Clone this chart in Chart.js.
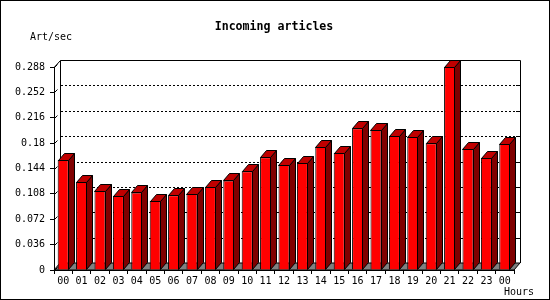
<!DOCTYPE html>
<html>
<head>
<meta charset="utf-8">
<script src="https://cdn.jsdelivr.net/npm/chart.js@4"></script>
<style>
  html, body { margin: 0; padding: 0; background: #fff; }
  canvas { display: block; }
</style>
</head>
<body>
<canvas id="articlesChart" width="550" height="300"></canvas>
<script>
const hours = ['00', '01', '02', '03', '04', '05', '06', '07', '08', '09', '10', '11',
               '12', '13', '14', '15', '16', '17', '18', '19', '20', '21', '22', '23', '00'];
const articlesPerSec = [0.156, 0.125, 0.112, 0.105, 0.110, 0.098, 0.106, 0.108, 0.118, 0.127, 0.140, 0.160,
                        0.149, 0.152, 0.175, 0.166, 0.201, 0.199, 0.190, 0.189, 0.180, 0.288, 0.172, 0.159, 0.179];
const yTicks = [0, 0.036, 0.072, 0.108, 0.144, 0.18, 0.216, 0.252, 0.288];
const yTickLabels = ['0', '0.036', '0.072', '0.108', '0.144', '0.18', '0.216', '0.252', '0.288'];

const DX = 6;
const DY = 7;
const monoFont = '"DejaVu Sans Mono", "Liberation Mono", monospace';

// back wall, dotted grid and floor, drawn behind the bars
const backdrop = {
    id: 'backdrop',
    beforeDatasetsDraw(chart) {
        const ctx = chart.ctx;
        const a = chart.chartArea;
        const y = chart.scales.y;
        ctx.save();
        ctx.lineWidth = 1;
        ctx.strokeStyle = '#000';

        // floor
        ctx.fillStyle = '#808080';
        ctx.beginPath();
        ctx.moveTo(a.left, a.bottom);
        ctx.lineTo(a.right, a.bottom);
        ctx.lineTo(a.right + DX, a.bottom - DY);
        ctx.lineTo(a.left + DX, a.bottom - DY);
        ctx.closePath();
        ctx.fill();
        ctx.stroke();

        // back panel outline
        ctx.beginPath();
        ctx.moveTo(a.left + DX + 0.5, a.bottom - DY);
        ctx.lineTo(a.left + DX + 0.5, a.top - DY + 0.5);
        ctx.lineTo(a.right + DX + 0.5, a.top - DY + 0.5);
        ctx.lineTo(a.right + DX + 0.5, a.bottom - DY);
        ctx.moveTo(a.left + 0.5, a.top);
        ctx.lineTo(a.left + DX + 0.5, a.top - DY + 0.5);
        ctx.stroke();

        // dotted grid on the back panel + small ticks
        yTicks.forEach(v => {
            const py = Math.round(y.getPixelForValue(v)) + 0.5;
            const gy = py - DY;
            if (v > 0 && v < yTicks[yTicks.length - 1]) {
                ctx.setLineDash([2, 2]);
                ctx.beginPath();
                ctx.moveTo(a.left + DX + 1, gy);
                ctx.lineTo(a.right + DX, gy);
                ctx.stroke();
                ctx.setLineDash([]);
                ctx.beginPath();
                ctx.moveTo(a.right + DX - 4, gy);
                ctx.lineTo(a.right + DX, gy);
                ctx.stroke();
            }
            ctx.beginPath();
            ctx.moveTo(a.left + 0.5, py);
            ctx.lineTo(a.left + 3.5, py - 3);
            ctx.stroke();
        });
        ctx.restore();
    }
};

// side and top faces of each bar
const bars3d = {
    id: 'bars3d',
    afterDatasetsDraw(chart) {
        const ctx = chart.ctx;
        const meta = chart.getDatasetMeta(0);
        ctx.save();
        ctx.lineWidth = 1;
        ctx.strokeStyle = '#000';
        meta.data.forEach(bar => {
            const p = bar.getProps(['x', 'y', 'base', 'width'], true);
            const l = Math.round(p.x - p.width / 2) + 0.5;
            const r = Math.round(p.x + p.width / 2) - 0.5;
            const t = Math.round(p.y) + 0.5;
            const b = Math.round(p.base) - 0.5;

            ctx.fillStyle = '#800000';
            ctx.beginPath();
            ctx.moveTo(r, t);
            ctx.lineTo(r + DX, t - DY);
            ctx.lineTo(r + DX, b - DY);
            ctx.lineTo(r, b);
            ctx.closePath();
            ctx.fill();
            ctx.stroke();

            ctx.fillStyle = '#c00000';
            ctx.beginPath();
            ctx.moveTo(l, t);
            ctx.lineTo(l + DX, t - DY);
            ctx.lineTo(r + DX, t - DY);
            ctx.lineTo(r, t);
            ctx.closePath();
            ctx.fill();
            ctx.stroke();
        });
        ctx.restore();
    }
};

// frame and texts
const labels = {
    id: 'labels',
    afterDraw(chart) {
        const ctx = chart.ctx;
        ctx.save();
        ctx.strokeStyle = '#000';
        ctx.lineWidth = 1;
        ctx.strokeRect(0.5, 0.5, 549, 299);
        ctx.fillStyle = '#000';
        ctx.textBaseline = 'middle';
        ctx.font = 'bold 11.6px ' + monoFont;
        ctx.textAlign = 'center';
        ctx.fillText('Incoming articles', 274, 27);
        ctx.font = '10px ' + monoFont;
        ctx.textAlign = 'left';
        ctx.fillText('Art/sec', 30, 37);
        ctx.fillText('Hours', 504, 292);
        ctx.restore();
    }
};

new Chart(document.getElementById('articlesChart'), {
    type: 'bar',
    data: {
        labels: hours,
        datasets: [{
            data: articlesPerSec,
            backgroundColor: '#ff0000',
            borderColor: '#000',
            borderWidth: 1,
            categoryPercentage: 1,
            barPercentage: 0.6
        }]
    },
    options: {
        responsive: false,
        animation: false,
        devicePixelRatio: 1,
        layout: { padding: { top: 67, right: 36, bottom: 0, left: 0 } },
        plugins: { legend: { display: false }, tooltip: { enabled: false } },
        scales: {
            x: {
                grid: { drawOnChartArea: false, drawTicks: true, tickLength: 4, color: '#000' },
                border: { color: '#000' },
                ticks: { color: '#000', font: { family: monoFont, size: 10 }, padding: 1, maxRotation: 0, autoSkip: false },
                afterFit(scale) { scale.height = 30; }
            },
            y: {
                min: 0,
                max: 0.288,
                grid: { drawOnChartArea: false, drawTicks: true, tickLength: 4, color: '#000' },
                border: { color: '#000' },
                ticks: {
                    color: '#000',
                    font: { family: monoFont, size: 10 },
                    padding: 5,
                    callback: (v, i) => yTickLabels[i]
                },
                afterBuildTicks(scale) { scale.ticks = yTicks.map(v => ({ value: v })); },
                afterFit(scale) { scale.width = 54; }
            }
        }
    },
    plugins: [backdrop, bars3d, labels]
});
</script>
</body>
</html>
